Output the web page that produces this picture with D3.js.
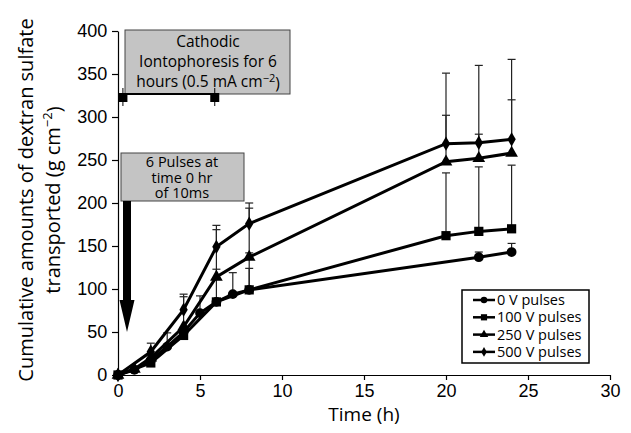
<!DOCTYPE html>
<html>
<head>
<meta charset="utf-8">
<script src="https://cdn.jsdelivr.net/npm/d3@7"></script>
<style>
  body { margin: 0; background: #fff; }
  svg { font-family: "Open Sans", "Noto Sans", sans-serif; }
</style>
</head>
<body>
<div id="chart-area"></div>
<script>
// data
var xTicks = [0, 5, 10, 15, 20, 25, 30];
var yTicks = [0, 50, 100, 150, 200, 250, 300, 350, 400];

var t0V = [0, 1, 2, 3, 4, 5, 6, 7, 8, 22, 24];
var v0V = [0, 6, 17, 33, 50, 72, 85, 94, 99, 137, 143];
var e0V = [null, null, null, 49, null, 92, null, 119, 124, 143, 153];

var t100V = [0, 2, 4, 6, 8, 20, 22, 24];
var v100V = [0, 14, 46, 85, 99, 162, 167, 170];
var e100V = [null, null, null, 123, 142, 235, 242, 244];

var t250V = [0, 1, 2, 4, 6, 8, 20, 22, 24];
var v250V = [0, 7, 20, 56, 114, 137, 248, 252, 258];
var e250V = [null, null, null, 91, 169, 194, 302, 280, 320];

var t500V = [0, 2, 4, 6, 8, 20, 22, 24];
var v500V = [0, 27, 76, 149, 176, 269, 270, 274];
var e500V = [null, 37, 94, 174, 200, 351, 360, 367];

var seriesNames = ["0 V pulses", "100 V pulses", "250 V pulses", "500 V pulses"];

var svg = d3.select("#chart-area").append("svg")
            .attr("width", 631)
            .attr("height", 433);

var x = d3.scaleLinear().domain([0, 30]).range([118, 610]);
var y = d3.scaleLinear().domain([0, 400]).range([375, 31]);

var series = [
  {name: seriesNames[0], t: t0V, v: v0V, e: e0V, sym: d3.symbolCircle, size: 75},
  {name: seriesNames[1], t: t100V, v: v100V, e: e100V, sym: d3.symbolSquare, size: 85},
  {name: seriesNames[2], t: t250V, v: v250V, e: e250V, sym: d3.symbolTriangle, size: 70},
  {name: seriesNames[3], t: t500V, v: v500V, e: e500V, sym: d3.symbolDiamond, size: 60}
];

// axes
var xAxis = d3.axisBottom(x).tickValues(xTicks).tickSize(5).tickSizeOuter(0);
var yAxis = d3.axisLeft(y).tickValues(yTicks).tickSize(6).tickSizeOuter(0);

var gx = svg.append("g").attr("transform", "translate(0," + y(0) + ")").call(xAxis);
gx.selectAll("text").attr("font-size", 18).attr("fill", "#000").attr("dy", "0.8em");
var gy = svg.append("g").attr("transform", "translate(" + x(0) + ",0)").call(yAxis);
gy.selectAll("text").attr("font-size", 18).attr("fill", "#000").attr("dx", "-0.1em");
svg.selectAll(".domain, .tick line").attr("stroke", "#000").attr("stroke-width", 1.2);

svg.append("text")
   .attr("x", (x(0) + x(30)) / 2).attr("y", 421)
   .attr("text-anchor", "middle").attr("font-size", 19)
   .text("Time (h)");

var yTitle = svg.append("text")
   .attr("transform", "translate(33,200) rotate(-90)")
   .attr("text-anchor", "middle").attr("font-size", 20);
yTitle.append("tspan").attr("x", 0).attr("dy", 0).text("Cumulative amounts of dextran sulfate");
var l2 = yTitle.append("tspan").attr("x", 0).attr("dy", "1.35em").text("transported (g cm");
l2.append("tspan").text("−2").attr("font-size", 13).attr("dy", "-0.6em");
yTitle.append("tspan").text(")").attr("dy", "0.45em");

// annotation boxes
svg.append("rect").attr("x", 125).attr("y", 30).attr("width", 165).attr("height", 64)
   .attr("fill", "#c4c4c4").attr("stroke", "#444").attr("stroke-width", 1);
var a1 = svg.append("text").attr("text-anchor", "middle").attr("font-size", 15.5);
a1.append("tspan").attr("x", 208).attr("y", 47).text("Cathodic");
a1.append("tspan").attr("x", 208).attr("y", 67).text("Iontophoresis for 6");
var a1b = a1.append("tspan").attr("x", 208).attr("y", 87).text("hours (0.5 mA cm");
a1b.append("tspan").text("−2").attr("font-size", 11).attr("dy", "-0.5em");
a1.append("tspan").text(")").attr("dy", "0.5em");

svg.append("line").attr("x1", x(0.3)).attr("x2", x(5.9)).attr("y1", 94).attr("y2", 94)
   .attr("stroke", "#000").attr("stroke-width", 2);
[0.3, 5.9].forEach(function (t) {
  svg.append("rect").attr("x", x(t) - 4.5).attr("y", 93).attr("width", 9).attr("height", 9).attr("fill", "#000");
  svg.append("line").attr("x1", x(t)).attr("x2", x(t)).attr("y1", 88).attr("y2", 106)
     .attr("stroke", "#000").attr("stroke-width", 1);
});

svg.append("rect").attr("x", 121).attr("y", 153).attr("width", 123).attr("height", 48)
   .attr("fill", "#c4c4c4").attr("stroke", "#444").attr("stroke-width", 1);
var a2 = svg.append("text").attr("text-anchor", "middle").attr("font-size", 14.5);
a2.append("tspan").attr("x", 182).attr("y", 167).text("6 Pulses at");
a2.append("tspan").attr("x", 182).attr("y", 182.5).text("time 0 hr");
a2.append("tspan").attr("x", 182).attr("y", 198).text("of 10ms");

svg.append("path")
   .attr("d", "M123,201 L131,201 L131,300 L134.5,300 L127,332 L119.5,300 L123,300 Z")
   .attr("fill", "#000");

// error bars (upper side only)
var cap = 4;
series.forEach(function (s) {
  s.t.forEach(function (t, i) {
    if (s.e[i] == null) return;
    var g = svg.append("g").attr("stroke", "#222").attr("stroke-width", 1.2);
    g.append("line").attr("x1", x(t)).attr("x2", x(t)).attr("y1", y(s.v[i])).attr("y2", y(s.e[i]));
    g.append("line").attr("x1", x(t) - cap).attr("x2", x(t) + cap).attr("y1", y(s.e[i])).attr("y2", y(s.e[i]));
  });
});

// lines and markers
var line = d3.line().x(function (d) { return x(d[0]); }).y(function (d) { return y(d[1]); });
series.forEach(function (s) {
  var pts = s.t.map(function (t, i) { return [t, s.v[i]]; });
  svg.append("path").datum(pts).attr("d", line)
     .attr("fill", "none").attr("stroke", "#000").attr("stroke-width", 3);
  svg.selectAll(null).data(pts).enter().append("path")
     .attr("transform", function (d) { return "translate(" + x(d[0]) + "," + y(d[1]) + ")"; })
     .attr("d", d3.symbol().type(s.sym).size(s.size))
     .attr("fill", "#000");
});

// legend
var lg = svg.append("g");
lg.append("rect").attr("x", 462).attr("y", 290).attr("width", 127).attr("height", 73)
  .attr("fill", "#fff").attr("stroke", "#000").attr("stroke-width", 1.5);
series.forEach(function (s, i) {
  var yy = 300 + i * 17.3;
  lg.append("line").attr("x1", 473).attr("x2", 495).attr("y1", yy).attr("y2", yy)
    .attr("stroke", "#000").attr("stroke-width", 2.5);
  lg.append("path").attr("transform", "translate(484," + yy + ")")
    .attr("d", d3.symbol().type(s.sym).size(s.size * 0.45)).attr("fill", "#000");
  lg.append("text").attr("x", 497).attr("y", yy + 5).attr("font-size", 14.5).text(s.name);
});
</script>
</body>
</html>
